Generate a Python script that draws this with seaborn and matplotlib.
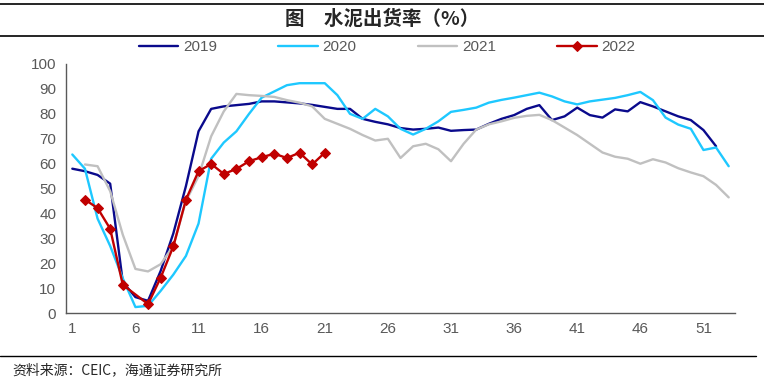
import numpy as np
import pandas as pd
import matplotlib.pyplot as plt
import seaborn as sns
from matplotlib.lines import Line2D

nan = np.nan

# Weekly cement shipment rate (%), week 1..53
weeks = list(range(1, 54))
rate_2019 = [58, 57, 55.5, 52, 12.5, 6.5, 5, 17, 32, 51,
             73, 82, 83, 83.5, 84, 85, 85, 84.6, 84.2, 83.6,
             82.8, 82, 82, 78, 76.8, 75.8, 74.3, 73.7, 74, 74.5,
             73.2, 73.5, 73.7, 76, 78, 79.5, 82, 83.5, 77.5, 79,
             82.5, 79.5, 78.5, 81.8, 81, 84.7, 83, 81, 79, 77.5,
             73.5, 67, nan]
rate_2020 = [63.7, 58, 38, 27, 14, 2.5, 3, 9, 15.5, 23,
             36, 62, 68.5, 73, 80, 86.5, 89, 91.5, 92.3, 92.3,
             92.3, 87.5, 80, 78, 82, 79, 74, 71.7, 74, 77,
             80.8, 81.6, 82.5, 84.5, 85.6, 86.5, 87.5, 88.5, 87, 85,
             83.8, 85, 85.7, 86.4, 87.5, 88.8, 85.5, 78.5, 75.7, 74,
             65.5, 66.5, 59]
rate_2021 = [nan, 59.7, 59, 49, 31.5, 17.8, 16.8, 19.7, 27, 45,
             55, 71, 81, 88, 87.5, 87.2, 86.8, 85.5, 84.5, 83,
             78, 76, 74, 71.5, 69.3, 70, 62.3, 67, 68, 65.8,
             61, 68, 73.7, 75.8, 77, 78.4, 79.2, 79.6, 77.5, 74.5,
             71.5, 68, 64.5, 62.8, 62, 60, 61.8, 60.5, 58.2, 56.5,
             55, 51.5, 46.5]
rate_2022 = [nan, 45.6, 42.2, 33.9, 11.4, nan, 3.7, 14.3, 26.8, 45.6,
             57, 59.9, 55.9, 57.9, 61, 62.6, 64, 62.3, 64.4, 59.7,
             64.4] + [nan] * 32

years = ["2019", "2020", "2021", "2022"]
colors = ["#0A0A8C", "#1EC8FF", "#C0C0C0", "#C00000"]
text_color = "#595959"

sns.set_style("white")
plt.rcParams["font.family"] = ["Liberation Sans", "Noto Sans CJK SC"]

fig = plt.figure(figsize=(7.64, 3.86), dpi=100)
ax = fig.add_axes([66 / 764, 1 - 313.3 / 386, 669 / 764, 249.3 / 386])

for year, vals, color in zip(years, [rate_2019, rate_2020, rate_2021, rate_2022], colors):
    df = pd.DataFrame({"week": weeks, "rate": vals}).dropna()
    if year == "2022":
        sns.lineplot(data=df, x="week", y="rate", color=color, linewidth=1.7,
                     marker="D", markersize=7.5, markeredgecolor=color,
                     label=year, ax=ax)
    else:
        sns.lineplot(data=df, x="week", y="rate", color=color, linewidth=1.7,
                     label=year, ax=ax)

# axes
ax.set_xlim(0.5, 53.5)
ax.set_ylim(0, 100)
ax.set_xticks(np.arange(0.5, 51, 5))
ax.set_xticklabels([])
ax.set_xticks(np.arange(1, 54, 5), minor=True)
ax.set_xticklabels([str(w) for w in range(1, 54, 5)], minor=True)
ax.set_yticks(np.arange(0, 101, 10))
ax.tick_params(axis="x", which="major", direction="out", length=4, width=1, color=text_color)
ax.tick_params(axis="x", which="minor", length=0, labelsize=11, labelcolor=text_color, pad=6)
ax.tick_params(axis="y", direction="out", length=4, width=1, color=text_color,
               labelsize=11, labelcolor=text_color, pad=3)
ax.set_xlabel("")
ax.set_ylabel("")
for s in ["top", "right"]:
    ax.spines[s].set_visible(False)
for s in ["left", "bottom"]:
    ax.spines[s].set_color(text_color)
    ax.spines[s].set_linewidth(1)

handles, labels = ax.get_legend_handles_labels()
ax.get_legend().remove()
for h in handles:
    if h.get_marker() not in (None, "None", ""):
        h.set_markersize(5)
fig.legend(handles, labels, loc="center", bbox_to_anchor=(387 / 764, 1 - 47 / 386),
           ncol=4, frameon=False, fontsize=11, handlelength=2.6, handletextpad=0.3,
           columnspacing=4.0, labelcolor=text_color)

# title block and footer
fig.add_artist(Line2D([0, 1], [1 - 4 / 386] * 2, color="black", lw=1.2))
fig.add_artist(Line2D([0, 1], [1 - 36 / 386] * 2, color="black", lw=1.2))
fig.text(0.5, 1 - 19 / 386, "图　水泥出货率（%）", ha="center", va="center",
         fontsize=14, fontweight="bold", family=["Noto Sans CJK SC", "DejaVu Sans"])
fig.add_artist(Line2D([0, 0.99], [1 - 356 / 386] * 2, color="black", lw=1))
fig.text(12 / 764, 1 - 370 / 386, "资料来源：CEIC，海通证券研究所", ha="left", va="center",
         fontsize=10, family=["Noto Sans CJK SC", "DejaVu Sans"])

fig.savefig("out.png", dpi=100)
